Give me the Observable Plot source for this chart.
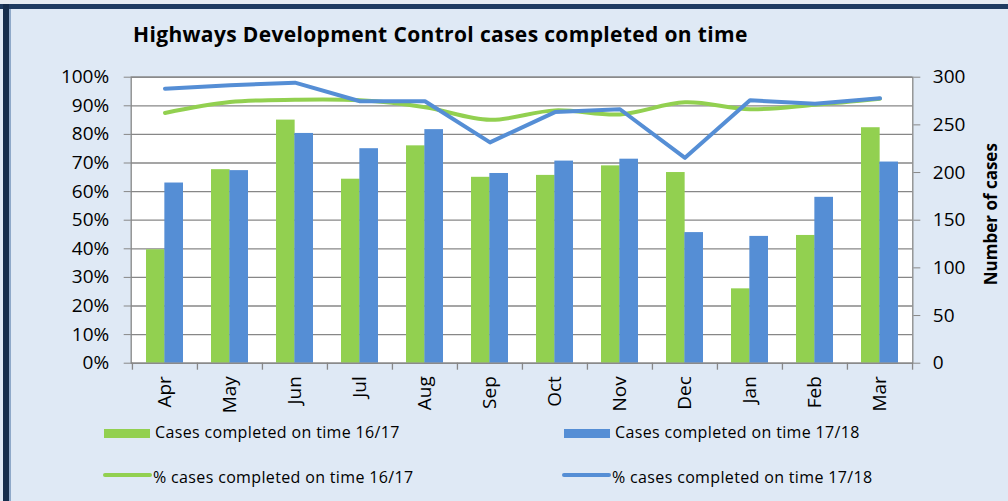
<!DOCTYPE html>
<html>
<head>
<meta charset="utf-8">
<script src="https://cdn.jsdelivr.net/npm/d3@7"></script>
<script src="https://cdn.jsdelivr.net/npm/@observablehq/plot@0.6"></script>
<style>
  html, body { margin: 0; padding: 0; }
  body { width: 1008px; height: 501px; overflow: hidden; background: #dfe9f5; position: relative; font-family: "Open Sans", sans-serif; }
  #topstrip { position: absolute; left: 0; top: 0; width: 1008px; height: 4px; background: #e6ebf1; }
  #topbar { position: absolute; left: 0; top: 4px; width: 1008px; height: 5px; background: #1f3b60; }
  #leftbar { position: absolute; left: 3px; top: 4px; width: 6px; height: 497px; background: #152d4c; }
  #leftedge { position: absolute; left: 9px; top: 9px; width: 1.5px; height: 492px; background: #8fa9c9; }
  #title { position: absolute; left: 133px; top: 23.5px; font-weight: 700; font-size: 21px; line-height: 21px; letter-spacing: 0.35px; color: #000; white-space: nowrap; }
  #chart { position: absolute; left: 0; top: 0; }
  .leg { position: absolute; font-size: 16px; line-height: 16px; letter-spacing: 0.35px; color: #000; white-space: nowrap; }
  .sw { position: absolute; }
</style>
</head>
<body>
<div id="topstrip"></div>
<div id="topbar"></div>
<div id="leftbar"></div>
<div id="leftedge"></div>
<div id="chart"></div>
<div id="title">Highways Development Control cases completed on time</div>
<div id="legend"></div>
<script>
const months = ["Apr","May","Jun","Jul","Aug","Sep","Oct","Nov","Dec","Jan","Feb","Mar"];
const cases1617 = [119,203,255,193,228,195,197,207,200,78,134,247];
const cases1718 = [189,202,241,225,245,199,212,214,137,133,174,211];
const pct1617 = [0.875,0.913,0.921,0.919,0.895,0.851,0.884,0.870,0.912,0.888,0.904,0.925];
const pct1718 = [0.960,0.972,0.981,0.916,0.916,0.772,0.878,0.888,0.718,0.919,0.907,0.926];
const pctTicks = [0,0.1,0.2,0.3,0.4,0.5,0.6,0.7,0.8,0.9,1];
const caseTicks = [0,50,100,150,200,250,300];
const caseMax = 300;
const seriesNames = ["Cases completed on time 16/17","Cases completed on time 17/18","% cases completed on time 16/17","% cases completed on time 17/18"];

const green = "#92d050", blue = "#558ed5", grid = "#878787";
const W = 1008, H = 418, mL = 130.7, mR = 95.7, mT = 76.7, mB = 55.3;
const pInner = 0.4365;
const step = (W - mL - mR) / months.length;
const bw = step * (1 - pInner);
const pxPerY = (H - mT - mB);

const data = months.map((m, i) => ({month: m, c1: cases1617[i], c2: cases1718[i], p1: pct1617[i], p2: pct1718[i]}));

const chart = Plot.plot({
  width: W, height: H,
  marginLeft: mL, marginRight: mR, marginTop: mT, marginBottom: mB,
  style: {fontFamily: "'Open Sans', sans-serif", fontSize: "19px", background: "transparent", color: "#000"},
  x: {type: "band", domain: months, paddingInner: pInner, paddingOuter: pInner / 2, axis: null},
  y: {domain: [0, 1], axis: null},
  marks: [
    Plot.frame({fill: "white", stroke: null}),
    Plot.ruleY(pctTicks, {y: d => d, stroke: grid, strokeWidth: 1.3}),
    Plot.barY(data, {x: "month", y: d => d.c1 / caseMax, fill: green, insetRight: bw / 2}),
    Plot.barY(data, {x: "month", y: d => d.c2 / caseMax, fill: blue, insetLeft: bw / 2}),
    Plot.line(data, {x: "month", y: "p1", stroke: green, strokeWidth: 4, curve: "catmull-rom"}),
    Plot.line(data, {x: "month", y: "p2", stroke: blue, strokeWidth: 4}),
    Plot.frame({stroke: grid, strokeWidth: 1.3}),
    Plot.ruleX(months, {x: d => d, dx: -step / 2, y1: 0, y2: -7 / pxPerY, stroke: grid, strokeWidth: 1.3}),
    Plot.ruleX(months.slice(-1), {x: d => d, dx: step / 2, y1: 0, y2: -7 / pxPerY, stroke: grid, strokeWidth: 1.3}),
    Plot.axisX({tickSize: 0, tickPadding: 13, tickRotate: -90, label: null, fontSize: 19, fill: "#000"}),
    Plot.axisY(pctTicks, {anchor: "left", tickFormat: d3.format(".0%"), tickSize: 7, tickPadding: 15, label: null, stroke: grid, fill: "#000", fontSize: 19}),
    Plot.axisY(caseTicks.map(v => v / caseMax), {anchor: "right", tickFormat: d => Math.round(d * caseMax), tickSize: 7, tickPadding: 13, label: null, stroke: grid, fill: "#000", fontSize: 19}),
    Plot.text(["Number of cases"], {frameAnchor: "right", dx: 79, dy: -6, rotate: -90, textAnchor: "middle", fontWeight: "bold", fontSize: 17, fill: "#000"})
  ]
});
document.getElementById("chart").appendChild(chart);

// legend
const legend = document.getElementById("legend");
const items = [
  {name: seriesNames[0], color: green, kind: "bar", x: 104, y: 429},
  {name: seriesNames[1], color: blue, kind: "bar", x: 564, y: 429},
  {name: seriesNames[2], color: green, kind: "line", x: 103, y: 475},
  {name: seriesNames[3], color: blue, kind: "line", x: 562, y: 475}
];
for (const it of items) {
  const sw = document.createElement("div");
  sw.className = "sw";
  if (it.kind === "bar") {
    Object.assign(sw.style, {left: it.x + "px", top: it.y + "px", width: "46px", height: "9px", background: it.color});
  } else {
    Object.assign(sw.style, {left: it.x + "px", top: (it.y - 2) + "px", width: "49px", height: "4px", background: it.color, borderRadius: "2px"});
  }
  legend.appendChild(sw);
  const t = document.createElement("div");
  t.className = "leg";
  t.textContent = it.name;
  const tx = it.kind === "bar" ? it.x + 51 : it.x + 50;
  const ty = it.kind === "bar" ? 424 : 468.5;
  Object.assign(t.style, {left: tx + "px", top: ty + "px"});
  legend.appendChild(t);
}
</script>
</body>
</html>
